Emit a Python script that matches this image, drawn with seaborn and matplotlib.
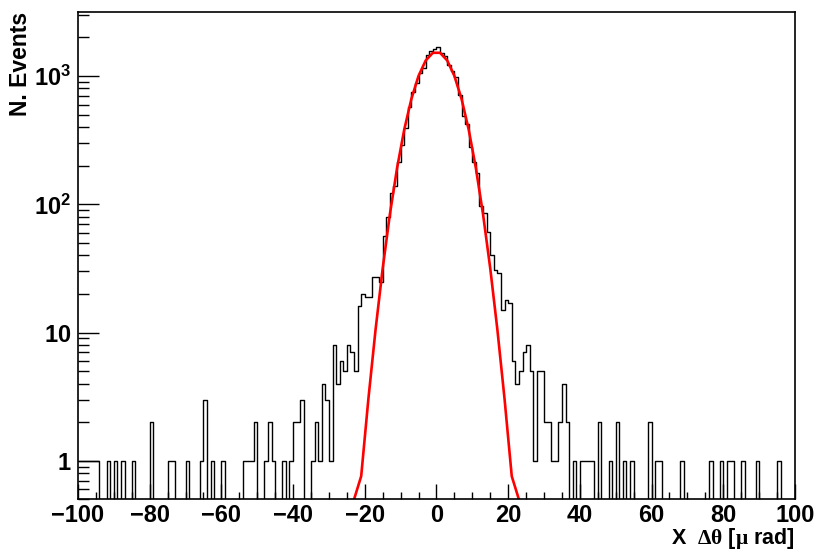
import numpy as np
import pandas as pd
import matplotlib
matplotlib.use('Agg')
import matplotlib.pyplot as plt
from matplotlib.ticker import MultipleLocator, FixedLocator, LogLocator, NullFormatter
import seaborn as sns

# --- data: 1 urad bins from -100 to 100 ---
X_MIN, X_MAX, BIN_W = -100, 100, 1
COUNTS = [
    1, 1, 1, 1, 1, 1, 0, 0, 1, 0,          # -100 .. -91
    1, 0, 1, 0, 0, 1, 0, 0, 0, 0,          # -90 .. -81
    2, 0, 0, 0, 0, 1, 1, 0, 0, 0,          # -80 .. -71
    1, 0, 0, 0, 1, 3, 0, 1, 0, 0,          # -70 .. -61
    1, 0, 0, 0, 0, 0, 1, 1, 1, 2,          # -60 .. -51
    0, 0, 1, 2, 1, 0, 0, 1, 0, 1,          # -50 .. -41
    2, 2, 3, 0, 0, 1, 2, 1, 4, 3,          # -40 .. -31
    1, 8, 4, 6, 5, 8, 7, 5, 16, 20,        # -30 .. -21
    19, 19, 27, 27, 25, 57, 79, 122, 140, 215,          # -20 .. -11
    290, 392, 578, 756, 889, 1052, 1151, 1460, 1578, 1620,  # -10 .. -1
    1676, 1522, 1435, 1222, 1102, 977, 713, 489, 424, 279,  # 0 .. 9
    215, 175, 97, 85, 61, 40, 31, 29, 15, 18,           # 10 .. 19
    17, 6, 4, 5, 7, 8, 5, 1, 5, 5,         # 20 .. 29
    2, 2, 1, 1, 2, 4, 2, 0, 1, 0,          # 30 .. 39
    1, 1, 1, 1, 0, 2, 0, 0, 1, 0,          # 40 .. 49
    2, 0, 1, 0, 1, 0, 0, 0, 0, 2,          # 50 .. 59
    0, 1, 1, 0, 0, 0, 0, 0, 1, 0,          # 60 .. 69
    0, 0, 0, 0, 0, 0, 1, 0, 0, 1,          # 70 .. 79
    0, 1, 1, 0, 0, 1, 0, 0, 0, 1,          # 80 .. 89
    0, 0, 0, 0, 0, 1, 0, 0, 0, 0,          # 90 .. 99
]

# gaussian fit parameters
FIT_CONST = 1545.0
FIT_MEAN = 0.0
FIT_SIGMA = 5.38
FIT_NPX = 100

Y_MIN, Y_MAX = 0.5, 3160
Y_TICKS = [1, 10, 100, 1000]
Y_TICK_LABELS = [r'$\mathbf{1}$', r'$\mathbf{10}$', r'$\mathbf{10^{2}}$', r'$\mathbf{10^{3}}$']


def make_plot():
    n_bins = int((X_MAX - X_MIN) / BIN_W)
    centers = X_MIN + (np.arange(n_bins) + 0.5) * BIN_W
    df = pd.DataFrame({'dtheta': centers, 'n': COUNTS})

    # fit curve sampled like a ROOT TF1 (bin centres), clipped at the frame bottom
    dx = (X_MAX - X_MIN) / FIT_NPX
    fx = X_MIN + (np.arange(FIT_NPX) + 0.5) * dx
    fy = FIT_CONST * np.exp(-0.5 * ((fx - FIT_MEAN) / FIT_SIGMA) ** 2)
    keep = fy >= Y_MIN
    keep = keep | np.roll(keep, 1) | np.roll(keep, -1)
    fit = pd.DataFrame({'x': fx[keep], 'y': np.maximum(fy[keep], Y_MIN)})

    sns.set_style('ticks')
    plt.rcParams['font.family'] = ['Liberation Sans', 'DejaVu Sans']
    plt.rcParams['font.weight'] = 'bold'
    plt.rcParams['mathtext.fontset'] = 'custom'
    plt.rcParams['mathtext.rm'] = 'Liberation Serif'
    plt.rcParams['mathtext.bf'] = 'Liberation Sans:bold'
    plt.rcParams['axes.linewidth'] = 1.2
    for key in ['text.color', 'axes.labelcolor', 'xtick.color', 'ytick.color',
                'axes.edgecolor']:
        plt.rcParams[key] = 'black'

    fig = plt.figure(figsize=(8.14, 5.51), dpi=100)
    ax = fig.add_axes([0.0958, 0.0935, 0.8808, 0.8848])

    sns.histplot(data=df, x='dtheta', weights='n', bins=n_bins, binrange=(X_MIN, X_MAX),
                 element='step', fill=False, color='black', linewidth=1.0, ax=ax)
    sns.lineplot(data=fit, x='x', y='y', color='#ff0000', linewidth=1.9,
                 estimator=None, sort=False, ax=ax)

    ax.set_yscale('log')
    ax.set_xlim(X_MIN, X_MAX)
    ax.set_ylim(Y_MIN, Y_MAX)

    ax.xaxis.set_major_locator(MultipleLocator(20))
    ax.xaxis.set_minor_locator(MultipleLocator(5))
    ax.yaxis.set_major_locator(FixedLocator(Y_TICKS))
    ax.set_yticklabels(Y_TICK_LABELS)
    ax.yaxis.set_minor_locator(LogLocator(base=10, subs=np.arange(2, 10)))
    ax.yaxis.set_minor_formatter(NullFormatter())

    ax.tick_params(axis='both', which='both', direction='in', bottom=True, left=True,
                   top=False, right=False, labelsize=17, width=1.0, color='black',
                   labelcolor='black')
    ax.tick_params(axis='x', which='major', length=10.8, pad=3)
    ax.tick_params(axis='x', which='minor', length=5)
    ax.tick_params(axis='y', which='major', length=15, pad=5)
    ax.tick_params(axis='y', which='minor', length=8)
    for spine in ax.spines.values():
        spine.set_visible(True)
        spine.set_color('black')

    ax.set_xlabel(r'X  $\mathrm{\Delta\theta}$ [$\mathrm{\mu}$ rad]', fontsize=15.5,
                  fontweight='bold', loc='right')
    ax.xaxis.label.set_va('baseline')
    ax.xaxis.set_label_coords(1.0, -0.091)
    ax.set_ylabel('N. Events', fontsize=16.5, fontweight='bold', loc='top')
    ax.yaxis.set_label_coords(-0.064, 1.0)

    fig.savefig('out.png', dpi=100)
    plt.close(fig)


if __name__ == "__main__":
    make_plot()
